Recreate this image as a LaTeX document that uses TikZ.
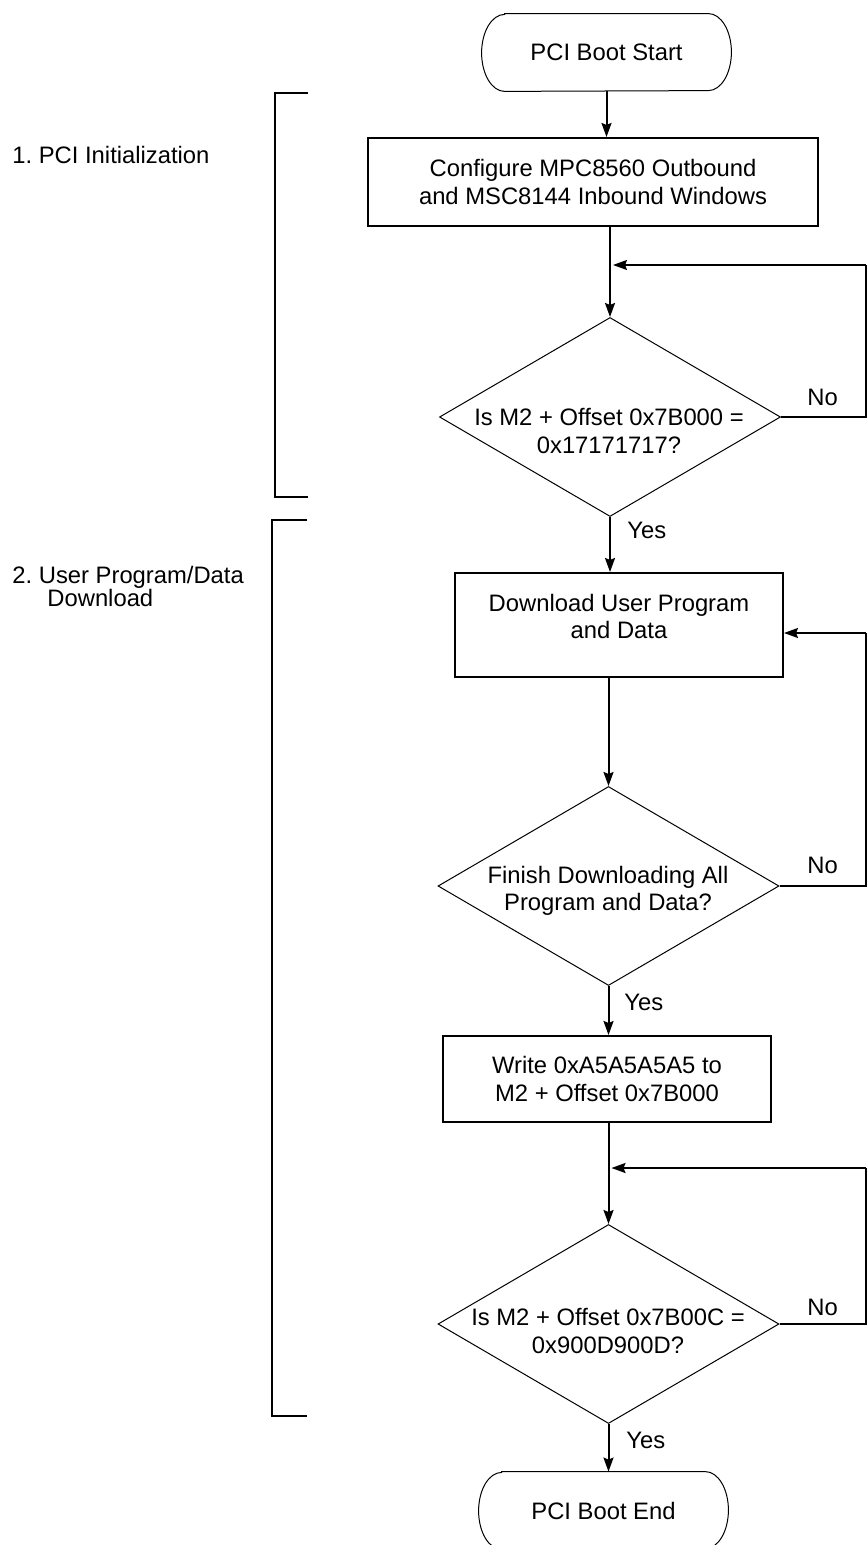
\documentclass[tikz,border=0pt]{standalone}
\usepackage{fontspec}
\setmainfont{Liberation Sans}
\usetikzlibrary{shapes.geometric,arrows.meta,calc}
\frenchspacing
\begin{document}
\begin{tikzpicture}[x=0.5pt,y=-0.5pt,
  txt/.style={font=\fontsize{11.9pt}{13.75pt}\selectfont, align=center, inner sep=0pt},
  lbl/.style={font=\fontsize{11.9pt}{11.5pt}\selectfont\frenchspacing, inner sep=0pt, anchor=west, align=left},
  procbox/.style={draw, line width=1pt, inner sep=0pt, font=\fontsize{11.9pt}{13.75pt}\selectfont, align=center},
  term/.style={inner sep=0pt, minimum width=124.5pt, minimum height=38.5pt, font=\fontsize{11.9pt}{13.75pt}\selectfont},
  termline/.style={line width=0.5pt},
  dia/.style={diamond, draw, line width=0.5pt, inner sep=0pt, minimum width=170.5pt, minimum height=99.5pt},
  conn/.style={line width=1pt},
  arr/.style={conn, -{Stealth[length=7pt,width=5pt,inset=1pt]}},
  brk/.style={line width=0.85pt}]
\useasboundingbox (0,0) rectangle (867,1545);

% side labels and brackets
\node[lbl] (sec1) at (12,155) {1. PCI Initialization};
\node[lbl] (sec2) at (12,586.5) {2. User Program/Data\\\hspace{17.5pt}Download};
\draw[brk] (308,93) -- (275,93) -- (275,497) -- (308,497);
\draw[brk] (307,520) -- (272,520) -- (272,1416) -- (307,1416);

% start terminal
\node[term] (start) at (606.5,52.5) {PCI Boot Start};
\draw[termline] ([xshift=11.5pt]start.north west) -- ([xshift=-11.5pt]start.north east)
  arc[start angle=90,end angle=-90,x radius=11.5pt,y radius=19.25pt]
  -- ([xshift=11.5pt]start.south west)
  arc[start angle=270,end angle=90,x radius=11.5pt,y radius=19.25pt] -- cycle;

% configure box
\node[procbox, minimum width=225pt, minimum height=44pt] (cfg) at (593,182)
  {Configure MPC8560 Outbound\\and MSC8144 Inbound Windows};

% decision 1
\node[dia] (d1) at (610,417) {};
\node[txt] (t1) at (609,431) {Is M2 + Offset 0x7B000 =\\0x17171717?};

% download box
\node[procbox, minimum width=164pt, minimum height=52pt] (dl) at (619,625) {};
\node[txt] (tdl) at (619,616.5) {Download User Program\\and Data};

% decision 2
\node[dia] (d2) at (608.5,886) {};
\node[txt] (t2) at (608,891) {Finish Downloading All\\Program and Data?};

% write box
\node[procbox, minimum width=164pt, minimum height=43pt] (wr) at (607,1079)
  {Write 0xA5A5A5A5 to\\M2 + Offset 0x7B000};

% decision 3
\node[dia] (d3) at (608.5,1324) {};
\node[txt] (t3) at (608,1331) {Is M2 + Offset 0x7B00C =\\0x900D900D?};

% end terminal
\node[term] (endt) at (603.5,1510.5) {PCI Boot End};
\draw[termline] ([xshift=11.5pt]endt.north west) -- ([xshift=-11.5pt]endt.north east)
  arc[start angle=90,end angle=-90,x radius=11.5pt,y radius=19.25pt]
  -- ([xshift=11.5pt]endt.south west)
  arc[start angle=270,end angle=90,x radius=11.5pt,y radius=19.25pt] -- cycle;

% labels
\node[lbl] (no1) at (807,397) {No};
\node[lbl] (no2) at (807,865) {No};
\node[lbl] (no3) at (807,1307) {No};
\node[lbl] (yes1) at (627,530) {Yes};
\node[lbl] (yes2) at (624,1002) {Yes};
\node[lbl] (yes3) at (626,1440) {Yes};

% loop coordinates
\coordinate (c1) at (865.5,265);
\coordinate (c2) at (865.5,633);
\coordinate (c3) at (865.5,1168);

% connectors
\draw[arr] (start.south) -- (start.south |- cfg.north);
\draw[arr] (d1.north |- cfg.south) -- (d1.north);
\draw[conn] (d1.east) -- (d1.east -| c1) -- (c1);
\draw[arr, shorten >=1.5pt] (c1) -- (c1 -| d1.north);
\draw[arr] (d1.south) -- (d1.south |- dl.north);
\draw[conn] (d2.east) -- (d2.east -| c2) -- (c2);
\draw[arr] (c2) -- (c2 -| dl.east);
\draw[arr] (d2.north |- dl.south) -- (d2.north);
\draw[arr] (d2.south) -- (d2.south |- wr.north);
\draw[arr] (d3.north |- wr.south) -- (d3.north);
\draw[conn] (d3.east) -- (d3.east -| c3) -- (c3);
\draw[arr, shorten >=1.5pt] (c3) -- (c3 -| d3.north);
\draw[arr] (d3.south) -- (d3.south |- endt.north);
\end{tikzpicture}
\end{document}
